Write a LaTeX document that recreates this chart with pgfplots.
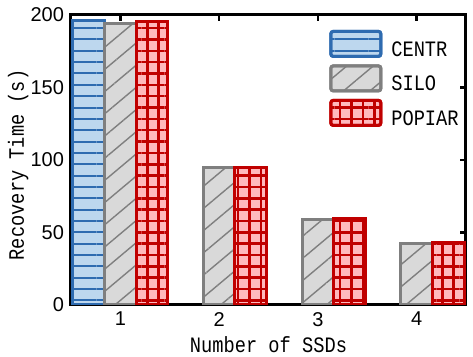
\documentclass[border=0pt]{standalone}
\usepackage{fontspec}
\setmainfont{Liberation Sans}
\newfontfamily\labfont[FakeStretch=0.85]{Liberation Mono}
\usepackage{pgfplots}
\pgfplotsset{compat=1.18}
\usetikzlibrary{patterns.meta}
\definecolor{cfill}{HTML}{BDD7EE}
\definecolor{cline}{HTML}{2E6BB0}
\definecolor{sfill}{HTML}{D9D9D9}
\definecolor{sline}{HTML}{7F7F7F}
\definecolor{pfill}{HTML}{FFB9BD}
\definecolor{pline}{HTML}{C00000}
\pgfplotsset{
  centr/.style={draw=cline, line width=1.5pt, preaction={fill=cfill},
    pattern={Lines[angle=0,distance=5.67pt,line width=1pt]}, pattern color=cline},
  silo/.style={draw=sline, line width=1.5pt, preaction={fill=sfill},
    pattern={Lines[angle=40,distance=8.5pt,line width=0.7pt]}, pattern color=sline},
  popiar/.style={draw=pline, line width=1.5pt, preaction={fill=pfill},
    pattern={Hatch[angle=0,distance=5.67pt,line width=1.3pt]}, pattern color=pline},
}
\begin{document}
\begin{tikzpicture}
\useasboundingbox (-35.5pt,-26pt) rectangle (201pt,152.5pt);
\begin{axis}[
  ybar, bar width=0.32,
  scale only axis, width=197.5pt, height=145pt,
  xmin=0.5, xmax=4.5, ymin=0, ymax=200,
  xtick={1,2,3,4}, ytick={0,50,100,150,200},
  tick align=inside, major tick length=3pt,
  every tick/.style={black, line width=1.2pt},
  axis line style={line width=1.5pt},
  ticklabel style={font=\fontsize{10}{12}\selectfont},
  /pgf/number format/assume math mode=true,
  xlabel={Number of SSDs}, ylabel={Recovery Time (s)},
  every axis x label/.style={at={(axis description cs:0.5,-0.138)},anchor=center,font=\labfont\fontsize{11}{13}\selectfont},
  every axis y label/.style={at={(axis description cs:-0.134,0.483)},anchor=center,rotate=90,font=\labfont\fontsize{11}{13}\selectfont},
  legend style={at={(axis description cs:0.653,0.95)}, anchor=north west, draw=none, fill=none,
    inner sep=0pt, row sep=1.5pt, font=\labfont\fontsize{11}{13}\selectfont,
    nodes={inner sep=0.5pt, text height=8pt, text depth=2pt},
    /tikz/every odd column/.append style={column sep=4pt}},
  legend cell align=left,
  legend image code/.code={\draw[#1,/tikz/.cd,rounded corners=1.2pt] (0pt,-3pt) rectangle (25pt,9.5pt);},
]
\addplot[centr, bar shift=-0.32] coordinates {(1,196.5)};
\addplot[silo, bar shift=0] coordinates {(1,194.3) (2,95) (3,58.9) (4,42.4)};
\addplot[popiar, bar shift=0.32] coordinates {(1,195.2) (2,95) (3,59.6) (4,43.3)};
\legend{CENTR,SILO,POPIAR}
\end{axis}
\end{tikzpicture}
\end{document}
